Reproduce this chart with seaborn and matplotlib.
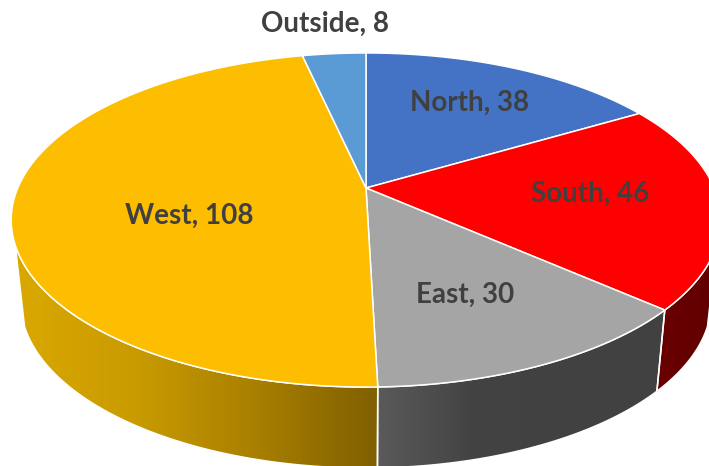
import numpy as np
import pandas as pd
import matplotlib
matplotlib.use("Agg")
import matplotlib.pyplot as plt
from matplotlib.patches import Polygon
import seaborn as sns

# chart values
regions = ["North", "South", "East", "West", "Outside"]
counts = [38, 46, 30, 108, 8]
top_colors = ["#4472C4", "#FF0000", "#A5A5A5", "#FDBD00", "#5B9BD5"]

# side wall shades, left to right
wall_colors = {
    "South": ["#6A0000", "#600000"],
    "East": ["#5A5A5A", "#434343", "#414141", "#414141"],
    "West": ["#DAA800", "#C99B00", "#A87F00", "#806000"],
}

label_xy = {
    "North": (470, 103),
    "South": (590, 194),
    "East": (465, 295),
    "West": (189, 216),
    "Outside": (325, 24),
}

sns.set_theme(style="white")
plt.rcParams["font.family"] = ["Lato", "DejaVu Sans"]

df = pd.DataFrame({"region": regions, "count": counts, "color": top_colors})
df["end"] = df["count"].cumsum() / df["count"].sum() * 360
df["start"] = df["end"].shift(1, fill_value=0)

# perspective of the pie
K = 0.1916
CX = 366
APEX_Y = 188


def project(theta, a, b, y0):
    t = np.radians(theta)
    w = 1 + K * np.cos(t)
    return np.column_stack([CX + a * np.sin(t) / w, y0 - b * np.cos(t) / w])


def top_rim(theta):
    return project(theta, 348.2, 160.9, APEX_Y)


def bottom_rim(theta):
    return project(theta, 339, 160.5, 269.5)


fig = plt.figure(figsize=(7.09, 4.66), dpi=100)
ax = fig.add_axes([0, 0, 1, 1])

# side walls, only the front part of the pie shows
for _, row in df.iterrows():
    if row["region"] not in wall_colors:
        continue
    lo = max(row["start"], 109.4)
    hi = min(row["end"], 250.6)
    th = np.linspace(lo, hi, 120)
    pts = np.vstack([top_rim(th), bottom_rim(th[::-1])])
    poly = Polygon(pts, closed=True, facecolor="none", edgecolor="white", lw=1.1, zorder=3)
    ax.add_patch(poly)
    cols = sns.color_palette(wall_colors[row["region"]], as_cmap=False)
    x0, x1 = pts[:, 0].min(), pts[:, 0].max()
    stops = np.linspace(0, 1, len(cols))
    grad = np.array([np.interp(np.linspace(0, 1, 256), stops, [c[i] for c in cols]) for i in range(3)]).T
    im = ax.imshow(grad[np.newaxis, :, :], extent=[x0, x1, pts[:, 1].max(), pts[:, 1].min()],
                   aspect="auto", zorder=2)
    im.set_clip_path(poly)

# top face
for _, row in df.iterrows():
    th = np.linspace(row["start"], row["end"], 200)
    pts = np.vstack([[CX, APEX_Y], top_rim(th)])
    ax.add_patch(Polygon(pts, closed=True, facecolor=row["color"], edgecolor="white", lw=1.1, zorder=4))

for name, val in zip(regions, counts):
    x, y = label_xy[name]
    ax.text(x, y, f"{name}, {val}", ha="center", va="center", fontsize=20, fontweight="bold",
            color="#404040", zorder=5)

ax.set_xlim(0, 709)
ax.set_ylim(466, 0)
ax.axis("off")
fig.savefig("out.png", dpi=100)
